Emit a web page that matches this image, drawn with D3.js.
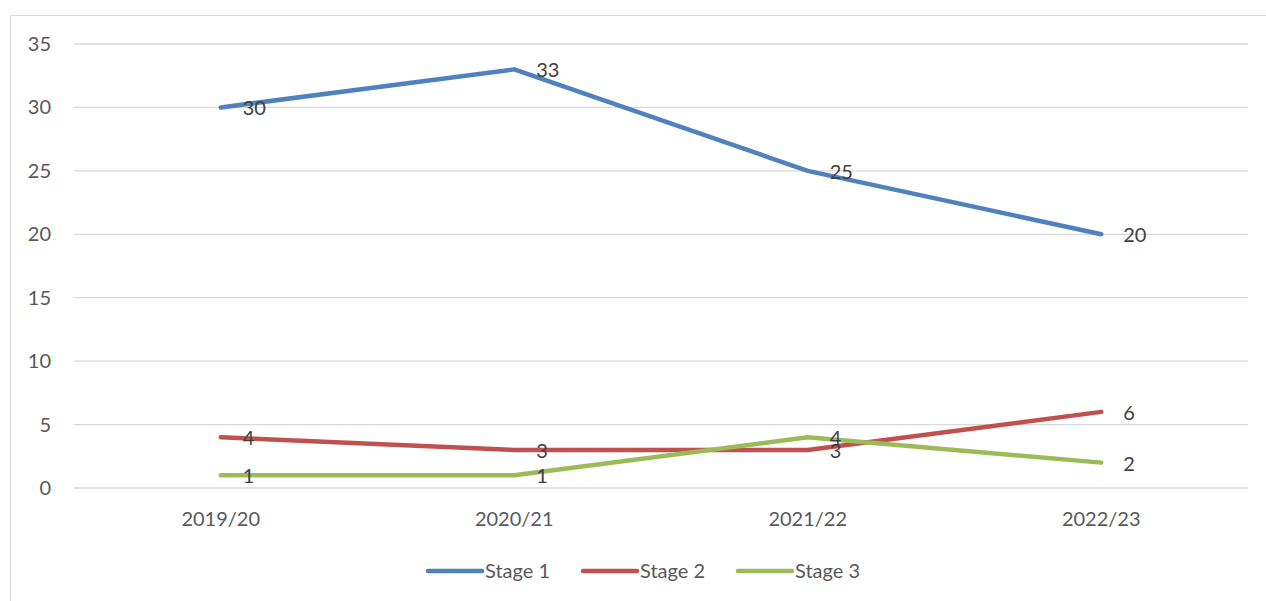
<!DOCTYPE html>
<meta charset="utf-8">
<style>
  body { margin: 0; background: #fff; }
  text { font-family: Lato, "Open Sans", sans-serif; }
</style>
<svg id="chart" width="1266" height="601"></svg>
<script src="https://cdn.jsdelivr.net/npm/d3@7"></script>
<script>

var years = ["2019/20", "2020/21", "2021/22", "2022/23"];
var stage1 = [30, 33, 25, 20];
var stage2 = [4, 3, 3, 6];
var stage3 = [1, 1, 4, 2];
var yTicks = [0, 5, 10, 15, 20, 25, 30, 35];

var series = [
  { name: "Stage 1", values: stage1, color: "#4f81bd" },
  { name: "Stage 2", values: stage2, color: "#c0504d" },
  { name: "Stage 3", values: stage3, color: "#9bbb59" }
];

var fs = 20;

var svg = d3.select("#chart");

// chart frame (runs off right/bottom edge like the original)
svg.append("rect")
    .attr("x", 10.5).attr("y", 15.5)
    .attr("width", 1300).attr("height", 700)
    .attr("fill", "none")
    .attr("stroke", "#d9d9d9");

var x = d3.scaleBand().domain(years).range([74, 1248]);
var y = d3.scaleLinear().domain([0, 35]).range([488, 44]);

// gridlines
svg.append("g")
  .selectAll("line")
  .data(yTicks)
  .enter().append("line")
    .attr("x1", 74).attr("x2", 1248)
    .attr("y1", function(d) { return y(d); })
    .attr("y2", function(d) { return y(d); })
    .attr("stroke", "#d9d9d9")
    .attr("stroke-width", 1.3);

// y axis labels
svg.append("g")
  .selectAll("text")
  .data(yTicks)
  .enter().append("text")
    .attr("x", 51)
    .attr("y", function(d) { return y(d); })
    .attr("dy", "0.35em")
    .attr("text-anchor", "end")
    .attr("font-size", fs)
    .attr("fill", "#595959")
    .text(function(d) { return d; });

// x axis labels
svg.append("g")
  .selectAll("text")
  .data(years)
  .enter().append("text")
    .attr("x", function(d) { return x(d) + x.bandwidth() / 2; })
    .attr("y", 519)
    .attr("dy", "0.35em")
    .attr("text-anchor", "middle")
    .attr("font-size", fs)
    .attr("fill", "#595959")
    .text(function(d) { return d; });

var line = d3.line()
    .x(function(d, i) { return x(years[i]) + x.bandwidth() / 2; })
    .y(function(d) { return y(d); });

series.forEach(function(s) {
  svg.append("path")
      .datum(s.values)
      .attr("d", line)
      .attr("fill", "none")
      .attr("stroke", s.color)
      .attr("stroke-width", 4.5)
      .attr("stroke-linecap", "round")
      .attr("stroke-linejoin", "round");
});

// data labels, placed to the right of each point
series.forEach(function(s) {
  svg.append("g")
    .selectAll("text")
    .data(s.values)
    .enter().append("text")
      .attr("x", function(d, i) { return x(years[i]) + x.bandwidth() / 2 + 22; })
      .attr("y", function(d) { return y(d); })
      .attr("dy", "0.4em")
      .attr("font-size", fs)
      .attr("fill", "#404040")
      .text(function(d) { return d; });
});

// legend
var legend = svg.append("g")
  .selectAll("g")
  .data(series)
  .enter().append("g")
    .attr("transform", function(d, i) { return "translate(" + (428 + i * 155) + ",571)"; });

legend.append("line")
    .attr("x1", 0).attr("x2", 54)
    .attr("stroke", function(d) { return d.color; })
    .attr("stroke-width", 4.5)
    .attr("stroke-linecap", "round");

legend.append("text")
    .attr("x", 57)
    .attr("dy", "0.35em")
    .attr("font-size", fs)
    .attr("fill", "#595959")
    .text(function(d) { return d.name; });

</script>
